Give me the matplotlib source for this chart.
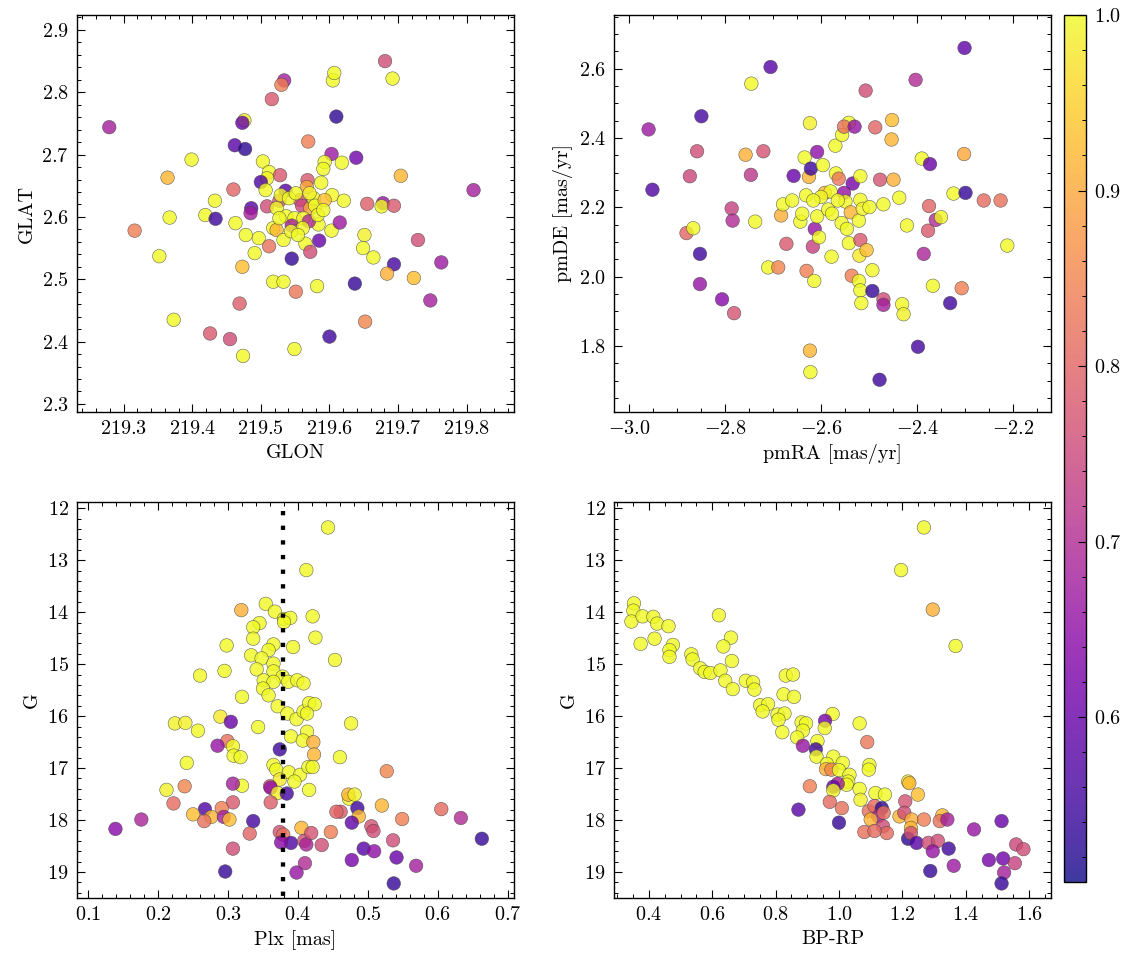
import matplotlib

matplotlib.use("Agg")
import matplotlib.pyplot as plt
from matplotlib.colors import Normalize
from matplotlib.ticker import AutoMinorLocator, MultipleLocator

# ---- sky positions (GLON, GLAT) and membership probability ----
glon = [219.279, 219.681, 219.692, 219.605, 219.607, 219.534, 219.530, 219.516, 219.610, 219.476,
        219.473, 219.569, 219.462, 219.477, 219.399, 219.603, 219.639, 219.503, 219.593, 219.618,
        219.591, 219.704, 219.364, 219.512, 219.528, 219.509, 219.500, 219.568, 219.588, 219.507,
        219.460, 219.536, 219.567, 219.810, 219.433, 219.419, 219.367, 219.434, 219.316, 219.352,
        219.373, 219.426, 219.455, 219.474, 219.469, 219.473, 219.491, 219.497, 219.478, 219.463,
        219.486, 219.485, 219.509, 219.527, 219.557, 219.560, 219.572, 219.577, 219.579, 219.604,
        219.593, 219.621, 219.523, 219.537, 219.549, 219.562, 219.584, 219.603, 219.570, 219.545,
        219.518, 219.523, 219.533, 219.561, 219.512, 219.565, 219.585, 219.572, 219.545, 219.615,
        219.651, 219.649, 219.664, 219.655, 219.678, 219.676, 219.694, 219.729, 219.694, 219.684,
        219.723, 219.637, 219.747, 219.763, 219.518, 219.533, 219.551, 219.582, 219.600, 219.652,
        219.549, 219.529, 219.541, 219.551, 219.571, 219.583, 219.544, 219.554, 219.527, 219.591]
glat = [2.744, 2.850, 2.822, 2.819, 2.831, 2.819, 2.812, 2.789, 2.761, 2.755,
        2.751, 2.721, 2.715, 2.709, 2.692, 2.701, 2.695, 2.689, 2.688, 2.687,
        2.677, 2.666, 2.663, 2.672, 2.667, 2.662, 2.656, 2.659, 2.655, 2.643,
        2.644, 2.642, 2.648, 2.643, 2.626, 2.603, 2.599, 2.597, 2.578, 2.537,
        2.435, 2.413, 2.404, 2.377, 2.461, 2.520, 2.542, 2.566, 2.571, 2.590,
        2.614, 2.606, 2.617, 2.626, 2.627, 2.618, 2.614, 2.630, 2.618, 2.635,
        2.627, 2.626, 2.614, 2.601, 2.598, 2.598, 2.588, 2.578, 2.593, 2.586,
        2.582, 2.579, 2.563, 2.582, 2.553, 2.557, 2.562, 2.544, 2.533, 2.591,
        2.571, 2.550, 2.535, 2.621, 2.622, 2.617, 2.618, 2.563, 2.524, 2.509,
        2.502, 2.493, 2.466, 2.527, 2.496, 2.496, 2.480, 2.489, 2.408, 2.432,
        2.388, 2.635, 2.630, 2.638, 2.638, 2.603, 2.577, 2.571, 2.598, 2.611]
prob_sky = [0.68, 0.76, 1.00, 1.00, 1.00, 0.68, 0.84, 0.78, 0.53, 0.99,
            0.60, 0.84, 0.58, 0.53, 1.00, 0.67, 0.61, 1.00, 1.00, 1.00,
            1.00, 0.92, 0.92, 1.00, 0.78, 0.99, 0.57, 0.78, 1.00, 1.00,
            0.80, 0.58, 0.90, 0.68, 1.00, 1.00, 1.00, 0.55, 0.84, 1.00,
            1.00, 0.78, 0.76, 1.00, 0.79, 0.93, 1.00, 1.00, 1.00, 1.00,
            0.58, 0.68, 0.76, 0.76, 0.78, 0.75, 0.90, 1.00, 1.00, 1.00,
            0.93, 1.00, 1.00, 1.00, 1.00, 0.99, 1.00, 1.00, 0.70, 0.68,
            1.00, 0.92, 1.00, 1.00, 0.82, 1.00, 0.60, 0.76, 0.54, 0.67,
            0.99, 1.00, 1.00, 0.79, 0.66, 1.00, 0.78, 0.76, 0.56, 0.91,
            0.93, 0.54, 0.68, 0.67, 1.00, 1.00, 0.83, 1.00, 0.55, 0.85,
            1.00, 1.00, 1.00, 1.00, 0.99, 1.00, 1.00, 1.00, 1.00, 1.00]

# ---- proper motions ----
pmra = [-2.959, -2.951, -2.849, -2.858, -2.873, -2.880, -2.866, -2.852, -2.852, -2.806,
        -2.781, -2.786, -2.784, -2.745, -2.705, -2.757, -2.720, -2.746, -2.737, -2.710,
        -2.689, -2.683, -2.672, -2.679, -2.657, -2.660, -2.643, -2.631, -2.634, -2.625,
        -2.623, -2.621, -2.608, -2.630, -2.614, -2.617, -2.613, -2.604, -2.623, -2.622,
        -2.608, -2.596, -2.592, -2.580, -2.585, -2.577, -2.569, -2.570, -2.556, -2.542,
        -2.552, -2.530, -2.563, -2.552, -2.534, -2.549, -2.538, -2.557, -2.546, -2.542,
        -2.578, -2.518, -2.520, -2.505, -2.536, -2.521, -2.518, -2.516, -2.493, -2.493,
        -2.521, -2.518, -2.513, -2.499, -2.518, -2.507, -2.487, -2.477, -2.470, -2.470,
        -2.470, -2.478, -2.452, -2.453, -2.449, -2.437, -2.421, -2.431, -2.428, -2.403,
        -2.398, -2.390, -2.373, -2.375, -2.377, -2.386, -2.361, -2.350, -2.367, -2.331,
        -2.324, -2.299, -2.301, -2.302, -2.307, -2.261, -2.226, -2.212, -2.639, -2.600,
        -2.616, -2.565]
pmde = [2.425, 2.251, 2.463, 2.362, 2.290, 2.126, 2.140, 2.066, 1.979, 1.935,
        1.895, 2.197, 2.162, 2.557, 2.605, 2.352, 2.362, 2.294, 2.159, 2.027,
        2.027, 2.177, 2.095, 2.209, 2.291, 2.220, 2.159, 2.235, 2.344, 2.288,
        2.443, 2.312, 2.360, 2.017, 1.988, 2.087, 2.138, 2.114, 1.787, 1.725,
        2.174, 2.322, 2.242, 2.246, 2.194, 2.182, 2.298, 2.378, 2.409, 2.444,
        2.433, 2.433, 2.283, 2.242, 2.269, 2.217, 2.186, 2.155, 2.138, 2.097,
        2.058, 2.106, 2.061, 2.077, 2.003, 1.988, 1.961, 1.924, 1.959, 2.019,
        2.162, 2.222, 2.196, 2.201, 2.290, 2.537, 2.431, 2.280, 2.209, 1.935,
        1.919, 1.703, 2.452, 2.396, 2.280, 2.228, 2.148, 1.921, 1.892, 2.568,
        1.798, 2.341, 2.325, 2.204, 2.133, 2.066, 2.164, 2.172, 1.974, 1.924,
        2.240, 2.242, 2.660, 2.354, 1.967, 2.220, 2.220, 2.090, 2.182, 2.230,
        2.220, 2.220]
prob_pm = [0.67, 0.57, 0.56, 0.76, 0.75, 0.80, 1.00, 0.55, 0.66, 0.64,
           0.77, 0.74, 0.70, 1.00, 0.58, 0.91, 0.77, 0.72, 1.00, 1.00,
           0.85, 0.91, 0.78, 1.00, 0.60, 1.00, 1.00, 1.00, 1.00, 0.92,
           0.99, 0.55, 0.65, 0.84, 1.00, 0.74, 0.66, 1.00, 0.92, 1.00,
           1.00, 1.00, 0.92, 1.00, 1.00, 1.00, 1.00, 1.00, 1.00, 1.00,
           0.82, 0.66, 0.83, 0.66, 0.62, 1.00, 0.92, 1.00, 1.00, 1.00,
           1.00, 0.78, 0.98, 0.93, 0.84, 1.00, 1.00, 1.00, 0.54, 1.00,
           1.00, 1.00, 0.99, 1.00, 1.00, 0.76, 0.80, 0.77, 1.00, 0.76,
           0.68, 0.55, 0.93, 0.92, 0.91, 1.00, 1.00, 1.00, 0.99, 0.70,
           0.56, 1.00, 0.60, 0.80, 0.78, 0.69, 0.70, 1.00, 1.00, 0.55,
           1.00, 0.54, 0.59, 0.90, 0.84, 0.81, 0.82, 1.00, 1.00, 1.00,
           1.00, 1.00]

# ---- parallax vs G ----
plx = [0.443, 0.412, 0.319, 0.354, 0.367, 0.380, 0.389, 0.380, 0.421, 0.345,
       0.336, 0.336, 0.425, 0.298, 0.365, 0.393, 0.358, 0.333, 0.348, 0.453,
       0.341, 0.295, 0.260, 0.365, 0.365, 0.351, 0.378, 0.386, 0.399, 0.408,
       0.365, 0.350, 0.358, 0.320, 0.371, 0.385, 0.398, 0.408, 0.416, 0.424,
       0.413, 0.289, 0.304, 0.224, 0.239, 0.257, 0.343, 0.476, 0.390, 0.413,
       0.407, 0.422, 0.299, 0.285, 0.307, 0.374, 0.423, 0.308, 0.318, 0.460,
       0.241, 0.365, 0.369, 0.387, 0.403, 0.415, 0.421, 0.395, 0.374, 0.527,
       0.212, 0.238, 0.320, 0.307, 0.360, 0.361, 0.371, 0.384, 0.416, 0.473,
       0.472, 0.481, 0.222, 0.307, 0.361, 0.267, 0.291, 0.276, 0.250, 0.266,
       0.294, 0.302, 0.520, 0.485, 0.461, 0.455, 0.487, 0.477, 0.549, 0.605,
       0.633, 0.663, 0.176, 0.139, 0.336, 0.331, 0.374, 0.379, 0.390, 0.405,
       0.409, 0.412, 0.419, 0.434, 0.447, 0.307, 0.505, 0.508, 0.494, 0.509,
       0.536, 0.477, 0.541, 0.569, 0.410, 0.398, 0.296, 0.537, 0.376]
g_plx = [12.37, 13.19, 13.96, 13.84, 13.99, 14.13, 14.11, 14.19, 14.08, 14.21,
         14.29, 14.51, 14.49, 14.64, 14.62, 14.67, 14.73, 14.83, 14.89, 14.92,
         15.10, 15.13, 15.22, 14.99, 15.14, 15.31, 15.24, 15.34, 15.31, 15.37,
         15.34, 15.47, 15.60, 15.63, 15.81, 15.95, 16.06, 15.91, 15.75, 15.77,
         15.95, 16.01, 16.11, 16.14, 16.13, 16.28, 16.21, 16.14, 16.39, 16.30,
         16.47, 16.50, 16.48, 16.57, 16.58, 16.64, 16.74, 16.76, 16.79, 16.79,
         16.90, 16.94, 17.03, 17.08, 17.13, 16.98, 16.98, 17.26, 17.22, 17.06,
         17.42, 17.35, 17.34, 17.30, 17.35, 17.38, 17.48, 17.49, 17.42, 17.59,
         17.51, 17.51, 17.68, 17.66, 17.66, 17.79, 17.77, 17.94, 17.89, 18.02,
         17.94, 17.99, 17.72, 17.77, 17.84, 17.84, 17.93, 18.05, 17.98, 17.79,
         17.96, 18.36, 17.99, 18.17, 18.02, 18.26, 18.23, 18.28, 18.44, 18.15,
         18.40, 18.47, 18.25, 18.48, 18.23, 18.55, 18.12, 18.21, 18.55, 18.60,
         18.39, 18.77, 18.72, 18.88, 18.83, 19.01, 18.99, 19.22, 18.43]
prob_plx = [1.00, 1.00, 0.91, 1.00, 1.00, 1.00, 1.00, 1.00, 1.00, 1.00,
            1.00, 1.00, 1.00, 1.00, 1.00, 1.00, 1.00, 1.00, 1.00, 1.00,
            1.00, 1.00, 1.00, 1.00, 1.00, 1.00, 1.00, 1.00, 1.00, 1.00,
            1.00, 1.00, 1.00, 1.00, 1.00, 1.00, 1.00, 1.00, 1.00, 1.00,
            1.00, 0.98, 0.60, 0.99, 0.99, 1.00, 1.00, 1.00, 1.00, 1.00,
            1.00, 0.91, 0.82, 0.66, 1.00, 0.55, 0.92, 1.00, 1.00, 1.00,
            1.00, 1.00, 1.00, 1.00, 1.00, 1.00, 1.00, 1.00, 0.98, 0.85,
            0.99, 0.85, 1.00, 0.68, 0.76, 0.66, 0.99, 0.56, 1.00, 0.99,
            0.92, 0.99, 0.81, 0.78, 0.79, 0.57, 0.84, 0.92, 0.93, 0.82,
            0.68, 0.93, 0.92, 0.55, 0.78, 0.80, 0.92, 0.59, 0.84, 0.81,
            0.70, 0.54, 0.69, 0.64, 0.56, 0.80, 0.77, 0.82, 0.57, 0.92,
            0.76, 0.69, 0.77, 0.76, 0.84, 0.76, 0.77, 0.76, 0.58, 0.65,
            0.76, 0.62, 0.60, 0.68, 0.70, 0.66, 0.54, 0.54, 0.64]
plx_ref = 0.378  # dotted reference parallax

# ---- colour-magnitude diagram ----
bprp = [1.268, 1.196, 1.296, 1.368, 0.353, 0.351, 0.345, 0.380, 0.414, 0.426,
        0.462, 0.374, 0.418, 0.476, 0.465, 0.465, 0.534, 0.538, 0.562, 0.576,
        0.594, 0.621, 0.659, 0.635, 0.626, 0.662, 0.641, 0.665, 0.706, 0.729,
        0.733, 0.751, 0.776, 0.759, 0.832, 0.855, 0.825, 0.858, 0.806, 0.828,
        0.809, 0.821, 0.980, 0.882, 0.896, 0.886, 0.956, 0.955, 0.868, 0.886,
        0.932, 0.927, 0.929, 0.982, 0.962, 1.012, 0.959, 0.976, 1.000, 1.033,
        1.029, 1.024, 0.996, 0.982, 0.982, 0.908, 0.971, 1.009, 0.872, 1.000,
        1.065, 1.089, 1.096, 1.094, 1.065, 1.068, 1.115, 1.145, 1.094, 1.112,
        1.135, 1.124, 1.141, 1.100, 1.139, 1.151, 1.080, 1.112, 1.191, 1.209,
        1.206, 1.218, 1.222, 1.249, 1.229, 1.227, 1.218, 1.227, 1.245, 1.268,
        1.288, 1.282, 1.312, 1.296, 1.326, 1.318, 1.342, 1.346, 1.362, 1.426,
        1.513, 1.473, 1.518, 1.521, 1.513, 1.559, 1.582, 1.555]
g_cmd = [12.37, 13.19, 13.95, 14.65, 13.83, 13.97, 14.18, 14.08, 14.09, 14.22,
         14.27, 14.61, 14.51, 14.63, 14.73, 14.86, 14.81, 14.91, 15.08, 15.15,
         15.17, 14.06, 14.49, 14.66, 15.12, 14.94, 15.32, 15.48, 15.32, 15.35,
         15.49, 15.79, 15.77, 15.91, 15.22, 15.20, 15.58, 15.63, 15.97, 15.95,
         16.07, 16.31, 15.96, 16.12, 16.14, 16.28, 16.09, 16.23, 16.41, 16.57,
         16.48, 16.64, 16.78, 16.78, 16.92, 16.90, 17.02, 17.03, 17.04, 17.13,
         17.26, 17.32, 17.30, 17.36, 17.43, 17.35, 17.65, 17.77, 17.80, 18.05,
         16.14, 16.50, 16.94, 17.03, 17.40, 17.61, 17.48, 17.51, 17.83, 17.73,
         17.77, 17.93, 17.86, 17.99, 18.12, 18.25, 18.23, 18.21, 17.93, 17.64,
         17.86, 17.26, 17.29, 17.51, 17.99, 18.15, 18.36, 18.25, 18.44, 17.99,
         18.98, 18.44, 18.40, 18.60, 17.91, 18.02, 17.99, 18.55, 18.88, 18.18,
         18.02, 18.77, 18.74, 19.01, 19.22, 18.47, 18.56, 18.83]
prob_cmd = [1.00, 1.00, 0.91, 1.00, 1.00, 1.00, 1.00, 1.00, 1.00, 1.00,
            1.00, 1.00, 1.00, 1.00, 1.00, 1.00, 1.00, 1.00, 1.00, 1.00,
            1.00, 1.00, 1.00, 1.00, 1.00, 1.00, 1.00, 1.00, 1.00, 1.00,
            1.00, 1.00, 1.00, 1.00, 1.00, 1.00, 1.00, 1.00, 1.00, 1.00,
            1.00, 1.00, 1.00, 1.00, 1.00, 1.00, 0.62, 1.00, 1.00, 0.66,
            1.00, 0.55, 1.00, 1.00, 1.00, 1.00, 0.91, 0.85, 1.00, 1.00,
            1.00, 1.00, 0.68, 0.60, 1.00, 0.84, 0.81, 0.82, 0.58, 0.54,
            1.00, 0.83, 1.00, 1.00, 1.00, 0.99, 1.00, 1.00, 0.82, 0.81,
            0.53, 0.68, 0.82, 0.92, 0.76, 0.81, 0.82, 0.81, 0.92, 0.77,
            0.76, 0.99, 0.92, 0.93, 0.91, 0.92, 0.53, 0.77, 0.58, 0.84,
            0.54, 0.76, 0.76, 0.66, 0.92, 0.82, 0.68, 0.55, 0.67, 0.66,
            0.60, 0.62, 0.61, 0.68, 0.54, 0.75, 0.76, 0.74]

plt.rcParams.update({
    "font.family": "serif",
    "font.serif": ["cmr10"],
    "mathtext.fontset": "cm",
    "axes.formatter.use_mathtext": True,
    "axes.unicode_minus": True,
    "font.size": 14.5,
    "axes.linewidth": 1.0,
    "xtick.direction": "in",
    "ytick.direction": "in",
    "xtick.top": True,
    "ytick.right": True,
    "xtick.major.size": 5.5,
    "ytick.major.size": 5.5,
    "xtick.minor.size": 2.9,
    "ytick.minor.size": 2.9,
    "xtick.major.width": 0.8,
    "ytick.major.width": 0.8,
    "xtick.minor.width": 0.7,
    "ytick.minor.width": 0.7,
    "xtick.minor.visible": True,
    "ytick.minor.visible": True,
    "xtick.major.pad": 6,
    "ytick.major.pad": 6,
})

W, H = 1133, 965
fig = plt.figure(figsize=(W / 100, H / 100), dpi=100)


def box(x0, y0, x1, y1):
    # pixel box (top-left origin) -> figure fraction rect
    return [x0 / W, 1 - y1 / H, (x1 - x0) / W, (y1 - y0) / H]


ax_sky = fig.add_axes(box(77, 15, 514, 412))
ax_pm = fig.add_axes(box(614, 15, 1051, 412))
ax_plx = fig.add_axes(box(77, 502, 514, 898))
ax_cmd = fig.add_axes(box(614, 502, 1051, 898))
cax = fig.add_axes(box(1064, 15, 1086, 882))

norm = Normalize(vmin=0.506, vmax=1.0)
kw = dict(cmap="plasma", norm=norm, s=95, alpha=0.8, edgecolors=(0.25, 0.25, 0.25, 0.6),
          linewidths=0.4)

sc = ax_sky.scatter(glon, glat, c=prob_sky, **kw)
ax_sky.set_xlim(219.232, 219.869)
ax_sky.set_ylim(2.287, 2.924)
ax_sky.xaxis.set_major_locator(MultipleLocator(0.1))
ax_sky.yaxis.set_major_locator(MultipleLocator(0.1))
ax_sky.ticklabel_format(useOffset=False)
ax_sky.set_xlabel("GLON")
ax_sky.set_ylabel("GLAT")

ax_pm.scatter(pmra, pmde, c=prob_pm, **kw)
ax_pm.set_xlim(-3.031, -2.121)
ax_pm.set_ylim(1.610, 2.755)
ax_pm.xaxis.set_major_locator(MultipleLocator(0.2))
ax_pm.yaxis.set_major_locator(MultipleLocator(0.2))
ax_pm.set_xlabel("pmRA [mas/yr]")
ax_pm.set_ylabel("pmDE [mas/yr]")

ax_plx.scatter(plx, g_plx, c=prob_plx, **kw)
ax_plx.vlines(plx_ref, 12.05, 19.5, colors="k", linewidth=3.1,
              linestyles=(0, (1, 2.4)), zorder=3)
ax_plx.set_xlim(0.084, 0.709)
ax_plx.set_ylim(19.5, 11.88)
ax_plx.xaxis.set_major_locator(MultipleLocator(0.1))
ax_plx.yaxis.set_major_locator(MultipleLocator(1))
ax_plx.set_xlabel("Plx [mas]")
ax_plx.set_ylabel("G")

ax_cmd.scatter(bprp, g_cmd, c=prob_cmd, **kw)
ax_cmd.set_xlim(0.29, 1.669)
ax_cmd.set_ylim(19.5, 11.88)
ax_cmd.xaxis.set_major_locator(MultipleLocator(0.2))
ax_cmd.yaxis.set_major_locator(MultipleLocator(1))
ax_cmd.set_xlabel("BP-RP")
ax_cmd.set_ylabel("G")

for ax in (ax_sky, ax_pm, ax_plx, ax_cmd):
    ax.xaxis.set_minor_locator(AutoMinorLocator())
    ax.yaxis.set_minor_locator(AutoMinorLocator())

cb = fig.colorbar(sc, cax=cax)
cb.set_ticks([0.6, 0.7, 0.8, 0.9, 1.0])
cb.ax.yaxis.set_minor_locator(MultipleLocator(0.02))
cb.ax.tick_params(which="both", direction="in", left=False, right=True)
cb.outline.set_linewidth(1.0)

fig.savefig("out.png", dpi=100)
plt.close(fig)
